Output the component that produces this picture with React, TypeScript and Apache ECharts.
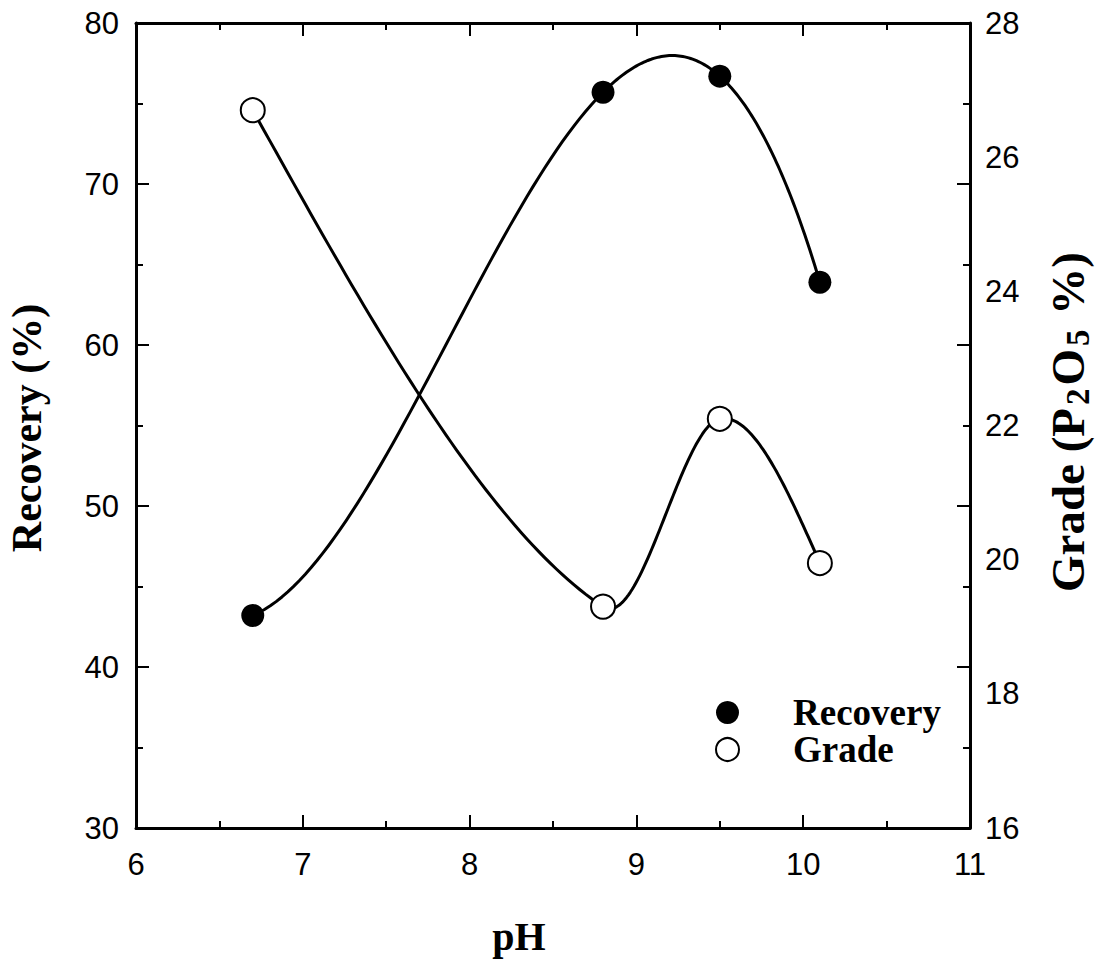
import { useEffect, useRef } from "react";
import * as echarts from "echarts";

// Flotation results versus pulp pH
const phValues = [6.7, 8.8, 9.5, 10.1];
const recovery = [43.2, 75.7, 76.7, 63.9];
const grade = [26.7, 19.3, 22.1, 19.95];

// Axis ranges and steps
const phRange = [6, 11, 1];
const recoveryRange = [30, 80, 10];
const gradeRange = [16, 28, 2];

const serif = '"Liberation Serif", "Times New Roman", serif';
const sans = '"Liberation Sans", Arial, sans-serif';

const frameLine = { show: true, lineStyle: { color: "#000", width: 3 } };
const majorTick = { show: true, inside: true, length: 13, lineStyle: { color: "#000", width: 2 } };
const minorTick = { show: true, splitNumber: 2, length: 7, lineStyle: { color: "#000", width: 2 } };
const tickLabel = { fontFamily: sans, fontSize: 31, color: "#000" };

type Sampler = (xs: number[], ys: number[], seg: number, steps: number) => number[][];

// Cubic polynomial through all points (Lagrange form), sampled on one interval.
const polynomialSegment: Sampler = (xs, ys, seg, steps) => {
  const evalAt = (x: number) => {
    let sum = 0;
    for (let i = 0; i < xs.length; i++) {
      let term = ys[i];
      for (let j = 0; j < xs.length; j++) {
        if (j !== i) term *= (x - xs[j]) / (xs[i] - xs[j]);
      }
      sum += term;
    }
    return sum;
  };
  const x0 = xs[seg];
  const h = xs[seg + 1] - x0;
  const out: number[][] = [];
  for (let k = 0; k <= steps; k++) {
    const x = x0 + (k / steps) * h;
    out.push([x, evalAt(x)]);
  }
  return out;
};

// Cubic Hermite spline (Catmull-Rom tangents inside, natural ends), sampled on one interval.
const hermiteSegment: Sampler = (xs, ys, seg, steps) => {
  const n = xs.length;
  const secant = (i: number) => (ys[i + 1] - ys[i]) / (xs[i + 1] - xs[i]);
  const inner = (i: number) => (ys[i + 1] - ys[i - 1]) / (xs[i + 1] - xs[i - 1]);
  const tangent = (i: number) => {
    if (n < 3) return secant(0);
    if (i === 0) return (3 * secant(0) - inner(1)) / 2;
    if (i === n - 1) return (3 * secant(n - 2) - inner(n - 2)) / 2;
    return inner(i);
  };
  const x0 = xs[seg];
  const h = xs[seg + 1] - x0;
  const y0 = ys[seg];
  const y1 = ys[seg + 1];
  const m0 = tangent(seg);
  const m1 = tangent(seg + 1);
  const out: number[][] = [];
  for (let k = 0; k <= steps; k++) {
    const t = k / steps;
    const t2 = t * t;
    const t3 = t2 * t;
    const y =
      (2 * t3 - 3 * t2 + 1) * y0 +
      (t3 - 2 * t2 + t) * h * m0 +
      (-2 * t3 + 3 * t2) * y1 +
      (t3 - t2) * h * m1;
    out.push([x0 + t * h, y]);
  }
  return out;
};

function curveSeries(name: string, ys: number[], yAxisIndex: number, sampler: Sampler) {
  return {
    id: name + "-curve",
    type: "custom",
    coordinateSystem: "cartesian2d",
    xAxisIndex: 0,
    yAxisIndex,
    silent: true,
    z: 2,
    data: phValues.map((x, i) => [x, ys[i]]),
    encode: { x: 0, y: 1 },
    renderItem: (params: any, api: any) => {
      const seg = params.dataIndex;
      if (seg >= phValues.length - 1) return null;
      const pts = sampler(phValues, ys, seg, 60).map((p) => api.coord(p));
      return {
        type: "polyline",
        shape: { points: pts },
        style: { stroke: "#000", lineWidth: 3, fill: "none", lineJoin: "round" },
      };
    },
  };
}

export default function App() {
  const ref = useRef<HTMLDivElement>(null);

  useEffect(() => {
    if (!ref.current) return;
    const chart = echarts.init(ref.current, null, { renderer: "svg" });

    const phAxis = (position: "bottom" | "top", showLabel: boolean) => ({
      type: "value",
      position,
      min: phRange[0],
      max: phRange[1],
      interval: phRange[2],
      axisLine: frameLine,
      axisTick: majorTick,
      minorTick,
      splitLine: { show: false },
      minorSplitLine: { show: false },
      axisLabel: { show: showLabel, margin: 21, ...tickLabel },
    });

    chart.setOption({
      animation: false,
      backgroundColor: "#fff",
      grid: { left: 136, right: 132, top: 23, bottom: 132, containLabel: false },
      xAxis: [phAxis("bottom", true), phAxis("top", false)],
      yAxis: [
        {
          type: "value",
          position: "left",
          min: recoveryRange[0],
          max: recoveryRange[1],
          interval: recoveryRange[2],
          axisLine: frameLine,
          axisTick: majorTick,
          minorTick,
          splitLine: { show: false },
          axisLabel: { margin: 17, ...tickLabel },
        },
        {
          type: "value",
          position: "right",
          min: recoveryRange[0],
          max: recoveryRange[1],
          interval: recoveryRange[2],
          axisLine: frameLine,
          axisTick: majorTick,
          minorTick,
          splitLine: { show: false },
          axisLabel: { show: false },
        },
        {
          type: "value",
          position: "right",
          min: gradeRange[0],
          max: gradeRange[1],
          interval: gradeRange[2],
          axisLine: { show: false },
          axisTick: { show: false },
          splitLine: { show: false },
          axisLabel: { margin: 15, ...tickLabel },
        },
      ],
      legend: {
        orient: "vertical",
        left: 710,
        top: 689,
        itemWidth: 23,
        itemHeight: 23,
        itemGap: 0,
        selectedMode: false,
        data: [
          { name: "Recovery", icon: "circle", itemStyle: { color: "#000", borderWidth: 0 } },
          {
            name: "Grade",
            icon: "circle",
            itemStyle: { color: "#fff", borderColor: "#000", borderWidth: 2 },
          },
        ],
        textStyle: {
          fontFamily: serif,
          fontWeight: "bold",
          fontSize: 37,
          lineHeight: 36,
          color: "#000",
          padding: [0, 0, 0, 49],
        },
      },
      series: [
        curveSeries("Recovery", recovery, 0, polynomialSegment),
        curveSeries("Grade", grade, 2, hermiteSegment),
        {
          name: "Recovery",
          type: "scatter",
          xAxisIndex: 0,
          yAxisIndex: 0,
          data: phValues.map((x, i) => [x, recovery[i]]),
          symbol: "circle",
          symbolSize: 23,
          itemStyle: { color: "#000", opacity: 1 },
          emphasis: { disabled: true },
          z: 5,
        },
        {
          name: "Grade",
          type: "scatter",
          xAxisIndex: 0,
          yAxisIndex: 2,
          data: phValues.map((x, i) => [x, grade[i]]),
          symbol: "circle",
          symbolSize: 24,
          itemStyle: { color: "#fff", borderColor: "#000", borderWidth: 2, opacity: 1 },
          emphasis: { disabled: true },
          z: 5,
        },
      ],
      graphic: [
        {
          type: "text",
          x: 27,
          y: 428,
          rotation: Math.PI / 2,
          style: {
            text: "Recovery (%)",
            fontFamily: serif,
            fontWeight: "bold",
            fontSize: 42,
            fill: "#000",
            align: "center",
            verticalAlign: "middle",
          },
        },
        {
          type: "text",
          x: 1068,
          y: 422,
          rotation: Math.PI / 2,
          style: {
            text: "Grade (P{s|2}O{s|5} %)",
            fontFamily: serif,
            fontWeight: "bold",
            fontSize: 47,
            fill: "#000",
            align: "center",
            verticalAlign: "middle",
            rich: {
              s: {
                fontFamily: serif,
                fontWeight: "bold",
                fontSize: 33,
                fill: "#000",
                padding: [20, 3, 0, 3],
              },
            },
          },
        },
        {
          type: "text",
          x: 519,
          y: 936,
          style: {
            text: "pH",
            fontFamily: serif,
            fontWeight: "bold",
            fontSize: 40,
            fill: "#000",
            align: "center",
            verticalAlign: "middle",
          },
        },
      ],
    });

    return () => chart.dispose();
  }, []);

  return (
    <div
      ref={ref}
      style={{ position: "fixed", left: 0, top: 0, width: 1102, height: 960, background: "#fff" }}
    />
  );
}
